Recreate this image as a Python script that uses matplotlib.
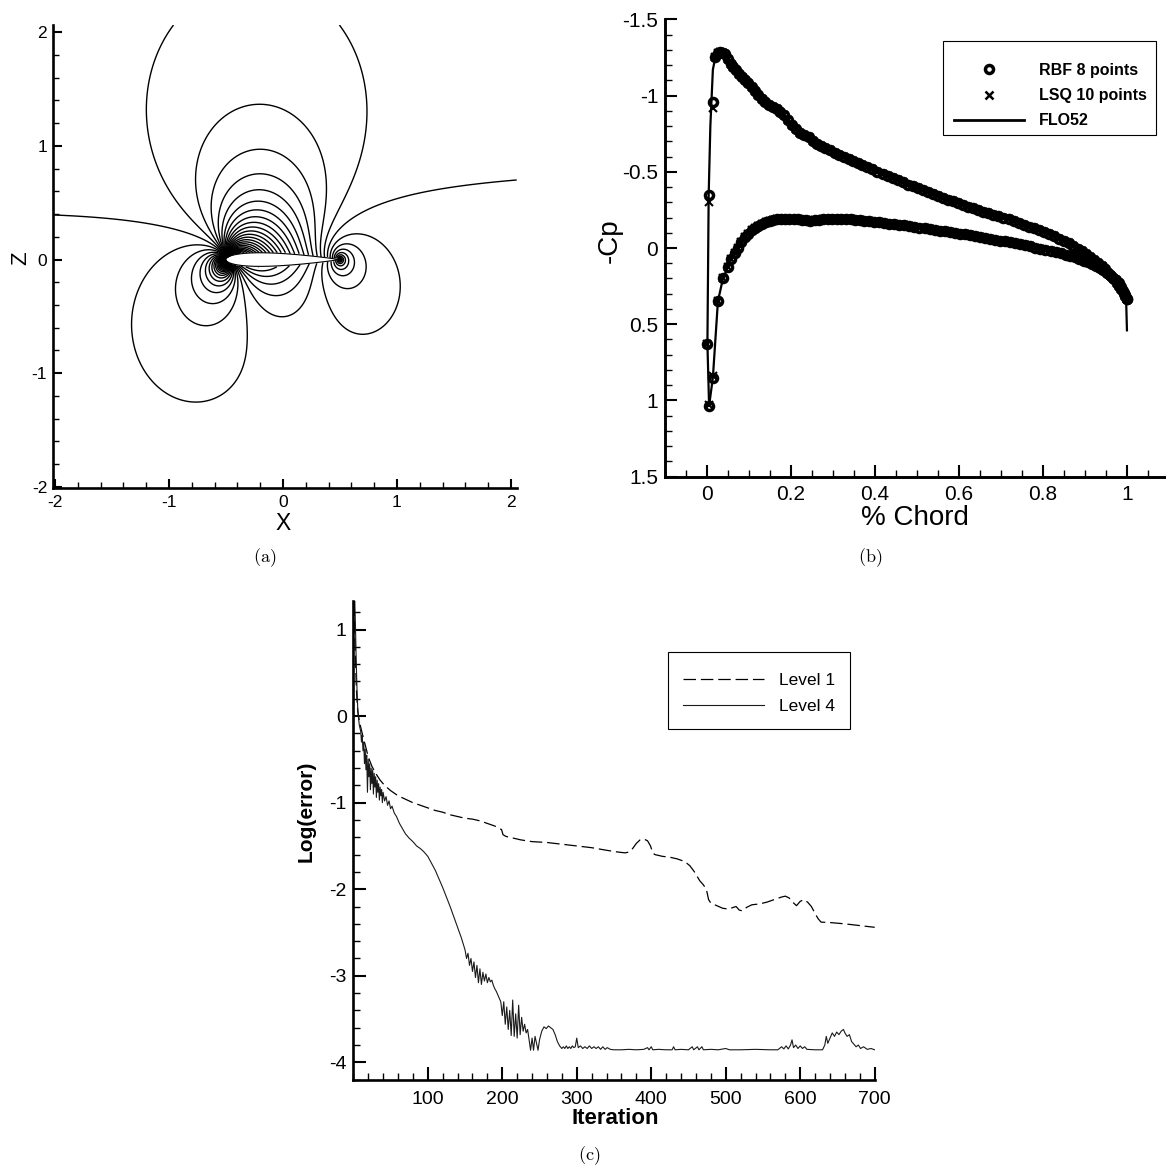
import numpy as np
import matplotlib
matplotlib.use("Agg")
import matplotlib.pyplot as plt
from matplotlib.path import Path
from matplotlib.patches import Rectangle
from matplotlib.ticker import MultipleLocator, FuncFormatter

plt.rcParams["font.family"] = ["Liberation Sans", "DejaVu Sans"]
plt.rcParams["axes.unicode_minus"] = False
plt.rcParams["mathtext.fontset"] = "cm"
plt.rcParams["lines.scale_dashes"] = False

W, H = 1166, 1167

# ---- (a) NACA 0012 section, subsonic Cp field (Goethert-corrected panel method) ----
chord_le, chord_te = -0.5, 0.5
thickness = 0.12
alpha_deg = 2.8
mach = 0.5
n_half = 90
cp_step = 0.036

# ---- (b) surface pressure ----
upper_x = [0.000, 0.005, 0.014, 0.020, 0.026, 0.032, 0.038, 0.044, 0.050, 0.056,
           0.062, 0.069, 0.076, 0.083, 0.090, 0.098, 0.106, 0.114, 0.122, 0.130,
           0.139, 0.148, 0.157, 0.166, 0.175, 0.184, 0.193, 0.202, 0.212, 0.222,
           0.232, 0.242, 0.252, 0.262, 0.272, 0.282, 0.293, 0.304, 0.315, 0.326,
           0.337, 0.348, 0.359, 0.370, 0.382, 0.394, 0.406, 0.418, 0.430, 0.442,
           0.454, 0.466, 0.478, 0.490, 0.502, 0.514, 0.526, 0.538, 0.550, 0.562,
           0.574, 0.586, 0.598, 0.610, 0.622, 0.634, 0.646, 0.658, 0.670, 0.682,
           0.694, 0.706, 0.718, 0.730, 0.742, 0.754, 0.766, 0.778, 0.790, 0.802,
           0.814, 0.826, 0.838, 0.850, 0.861, 0.872, 0.883, 0.893, 0.903, 0.913,
           0.922, 0.931, 0.940, 0.948, 0.956, 0.963, 0.970, 0.976, 0.982, 0.987,
           0.992, 0.996, 1.000]
rbf_upper = [0.63, -0.35, -0.96, -1.25, -1.28, -1.285, -1.28, -1.27, -1.24, -1.21,
             -1.19, -1.17, -1.14, -1.12, -1.10, -1.08, -1.055, -1.03, -1.005, -0.98,
             -0.96, -0.94, -0.925, -0.91, -0.895, -0.87, -0.84, -0.81, -0.78, -0.755,
             -0.74, -0.725, -0.705, -0.685, -0.67, -0.655, -0.64, -0.625, -0.612, -0.60,
             -0.585, -0.57, -0.557, -0.543, -0.53, -0.515, -0.50, -0.487, -0.473, -0.46,
             -0.445, -0.43, -0.416, -0.405, -0.393, -0.38, -0.368, -0.355, -0.342, -0.33,
             -0.318, -0.306, -0.295, -0.284, -0.272, -0.26, -0.248, -0.238, -0.228, -0.218,
             -0.208, -0.198, -0.188, -0.176, -0.164, -0.152, -0.14, -0.128, -0.116, -0.104,
             -0.091, -0.077, -0.062, -0.045, -0.03, -0.013, 0.004, 0.022, 0.04, 0.06,
             0.08, 0.10, 0.12, 0.14, 0.162, 0.183, 0.205, 0.228, 0.25, 0.272,
             0.295, 0.315, 0.335]
lower_x = [0.005, 0.014, 0.026, 0.038, 0.050, 0.058, 0.066, 0.074, 0.082, 0.090,
           0.098, 0.106, 0.114, 0.122, 0.131, 0.140, 0.149, 0.158, 0.167, 0.176,
           0.186, 0.196, 0.206, 0.216, 0.226, 0.236, 0.246, 0.256, 0.266, 0.276,
           0.287, 0.298, 0.309, 0.320, 0.331, 0.342, 0.353, 0.364, 0.375, 0.386,
           0.398, 0.410, 0.422, 0.434, 0.446, 0.458, 0.470, 0.482, 0.494, 0.506,
           0.518, 0.530, 0.542, 0.554, 0.566, 0.578, 0.590, 0.602, 0.614, 0.626,
           0.638, 0.650, 0.662, 0.674, 0.686, 0.698, 0.710, 0.722, 0.734, 0.746,
           0.758, 0.770, 0.782, 0.794, 0.806, 0.818, 0.830, 0.842, 0.854, 0.865,
           0.876, 0.887, 0.897, 0.907, 0.917, 0.926, 0.935, 0.944, 0.952, 0.960,
           0.967, 0.974, 0.980, 0.986, 0.991, 0.996, 1.000]
rbf_lower = [1.035, 0.85, 0.35, 0.20, 0.125, 0.075, 0.035, 0.0, -0.04, -0.07,
             -0.095, -0.115, -0.132, -0.147, -0.16, -0.17, -0.177, -0.183, -0.187, -0.19,
             -0.192, -0.192, -0.19, -0.188, -0.185, -0.183, -0.18, -0.182, -0.186, -0.189,
             -0.191, -0.192, -0.192, -0.191, -0.189, -0.187, -0.185, -0.182, -0.179, -0.176,
             -0.172, -0.168, -0.164, -0.16, -0.156, -0.152, -0.148, -0.144, -0.139, -0.134,
             -0.129, -0.124, -0.119, -0.114, -0.109, -0.104, -0.099, -0.094, -0.089, -0.084,
             -0.079, -0.073, -0.067, -0.061, -0.055, -0.049, -0.043, -0.037, -0.031, -0.024,
             -0.017, -0.01, -0.003, 0.004, 0.012, 0.02, 0.028, 0.036, 0.044, 0.053,
             0.062, 0.071, 0.082, 0.094, 0.106, 0.118, 0.131, 0.146, 0.161, 0.177,
             0.195, 0.213, 0.232, 0.255, 0.28, 0.31, 0.335]
# LSQ agrees with RBF everywhere except the first nodes behind the leading edge
lsq_upper_le = [0.63, -0.30, -0.92]
lsq_lower_le = [1.03, 0.84]
lsq_upper = lsq_upper_le + rbf_upper[len(lsq_upper_le):]
lsq_lower = lsq_lower_le + rbf_lower[len(lsq_lower_le):]

flo_upper_x = [0.005, 0.001, 0.004, 0.008, 0.014, 0.022, 0.030, 0.040, 0.055, 0.075,
               0.100, 0.130, 0.160, 0.190, 0.220, 0.250, 0.280, 0.320, 0.360, 0.400,
               0.450, 0.500, 0.550, 0.600, 0.650, 0.700, 0.750, 0.800, 0.850, 0.900,
               0.940, 0.970, 0.990, 0.998, 1.000]
flo_upper = [1.035, 0.63, -0.35, -0.80, -1.17, -1.28, -1.285, -1.27, -1.22, -1.15,
             -1.06, -0.98, -0.92, -0.83, -0.755, -0.70, -0.66, -0.60, -0.555, -0.505,
             -0.45, -0.395, -0.345, -0.295, -0.245, -0.205, -0.16, -0.105, -0.045, 0.03,
             0.12, 0.19, 0.27, 0.335, 0.54]
flo_lower_x = [0.005, 0.014, 0.026, 0.038, 0.055, 0.075, 0.100, 0.130, 0.160, 0.200,
               0.250, 0.300, 0.350, 0.400, 0.450, 0.500, 0.550, 0.600, 0.650, 0.700,
               0.750, 0.800, 0.850, 0.900, 0.940, 0.970, 0.990, 0.998]
flo_lower = [1.035, 0.85, 0.35, 0.20, 0.09, -0.01, -0.10, -0.155, -0.183, -0.19,
             -0.18, -0.19, -0.183, -0.17, -0.155, -0.135, -0.115, -0.095, -0.072, -0.05,
             -0.02, 0.01, 0.045, 0.095, 0.14, 0.21, 0.28, 0.335]

# ---- (c) convergence history ----
l1_iter = [1, 2, 3, 4, 5, 6, 7, 8, 10, 12, 15, 18, 20, 25, 30, 36, 42, 50, 60, 70,
           80, 90, 100, 110, 120, 130, 140, 150, 160, 170, 180, 190, 196, 199, 201, 205,
           215, 225, 240, 260, 280, 300, 320, 340, 355, 365, 370, 375, 380, 385, 390,
           395, 399, 402, 405, 415, 425, 435, 445, 452, 458, 465, 470, 474, 477, 480,
           488, 496, 504, 510, 514, 518, 522, 528, 535, 545, 555, 565, 575, 580, 585,
           590, 595, 600, 605, 610, 615, 620, 624, 628, 640, 660, 680, 700]
l1_val = [1.30, 1.00, 0.65, 0.35, 0.18, 0.06, 0.00, -0.05, -0.13, -0.20, -0.30, -0.40,
          -0.47, -0.58, -0.66, -0.74, -0.80, -0.86, -0.92, -0.96, -1.00, -1.03, -1.06,
          -1.09, -1.11, -1.14, -1.16, -1.18, -1.19, -1.21, -1.24, -1.27, -1.30, -1.31,
          -1.37, -1.39, -1.41, -1.43, -1.45, -1.46, -1.48, -1.50, -1.52, -1.55, -1.57,
          -1.58, -1.57, -1.53, -1.47, -1.43, -1.42, -1.44, -1.50, -1.58, -1.60, -1.62,
          -1.63, -1.65, -1.68, -1.73, -1.80, -1.90, -1.95, -2.00, -2.12, -2.16, -2.19,
          -2.22, -2.23, -2.21, -2.20, -2.24, -2.25, -2.21, -2.18, -2.17, -2.15, -2.12,
          -2.09, -2.08, -2.10, -2.15, -2.19, -2.14, -2.12, -2.15, -2.20, -2.28, -2.34,
          -2.38, -2.385, -2.40, -2.42, -2.44]
l4_iter = [1, 2, 3, 4, 5, 6, 7, 8, 10, 11, 12, 13, 14, 15, 16, 17, 18, 19, 20, 21,
           22, 23, 24, 25, 26, 27, 28, 29, 30, 31, 32, 33, 34, 35, 36, 37, 38, 39, 40,
           42, 44, 46, 48, 50, 52, 55, 58, 62, 66, 70, 75, 80, 85, 90, 95, 100, 105,
           110, 115, 120, 125, 130, 135, 140, 145, 150, 152, 154, 156, 158, 160, 162,
           164, 166, 168, 170, 172, 174, 176, 178, 180, 182, 184, 186, 188, 190, 192,
           194, 196, 198, 200, 202, 204, 206, 208, 210, 212, 214, 216, 218, 220, 222,
           224, 226, 228, 230, 232, 234, 236, 238, 240, 242, 244, 246, 248, 250, 253,
           256, 259, 262, 265, 268, 271, 274, 277, 280, 282, 284, 286, 288, 290, 292,
           294, 296, 298, 300, 302, 305, 308, 311, 314, 317, 320, 323, 326, 329, 332,
           335, 338, 341, 345, 350, 360, 370, 380, 390, 395, 397, 400, 402, 410, 420,
           428, 430, 432, 440, 450, 455, 457, 462, 464, 468, 470, 480, 490, 500, 505,
           520, 540, 560, 570, 575, 578, 581, 584, 587, 589, 591, 594, 597, 600, 603,
           606, 609, 620, 630, 633, 635, 637, 640, 643, 646, 649, 652, 655, 658, 660,
           663, 666, 669, 672, 675, 678, 681, 685, 690, 695, 700]
l4_val = [1.30, 1.34, 1.00, 0.60, 0.30, 0.08, -0.02, -0.10, -0.18, -0.30, -0.22, -0.40,
          -0.30, -0.55, -0.38, -0.62, -0.45, -0.88, -0.50, -0.70, -0.55, -0.85, -0.60,
          -0.78, -0.62, -0.90, -0.66, -0.82, -0.70, -0.94, -0.74, -0.88, -0.78, -0.97,
          -0.82, -0.92, -0.85, -1.00, -0.88, -0.98, -0.93, -1.03, -0.98, -1.07, -1.04,
          -1.12, -1.16, -1.24, -1.30, -1.36, -1.41, -1.45, -1.50, -1.53, -1.57, -1.62,
          -1.70, -1.78, -1.88, -1.98, -2.09, -2.20, -2.32, -2.44, -2.56, -2.70, -2.80,
          -2.74, -2.88, -2.80, -2.95, -2.84, -3.02, -2.88, -3.08, -2.92, -3.10, -2.96,
          -3.06, -2.98, -3.08, -3.02, -3.07, -3.05, -3.11, -3.15, -3.18, -3.22, -3.26,
          -3.30, -3.46, -3.30, -3.56, -3.36, -3.62, -3.40, -3.69, -3.28, -3.70, -3.44,
          -3.72, -3.34, -3.68, -3.48, -3.64, -3.56, -3.66, -3.62, -3.74, -3.86, -3.72,
          -3.86, -3.70, -3.78, -3.86, -3.74, -3.64, -3.59, -3.61, -3.58, -3.60, -3.62,
          -3.68, -3.76, -3.81, -3.84, -3.82, -3.84, -3.81, -3.84, -3.82, -3.84, -3.81,
          -3.83, -3.82, -3.72, -3.83, -3.81, -3.84, -3.82, -3.84, -3.81, -3.84, -3.82,
          -3.84, -3.82, -3.85, -3.82, -3.85, -3.83, -3.85, -3.855, -3.855, -3.85, -3.855,
          -3.85, -3.83, -3.855, -3.82, -3.855, -3.85, -3.855, -3.855, -3.82, -3.855,
          -3.85, -3.855, -3.82, -3.855, -3.82, -3.855, -3.82, -3.855, -3.85, -3.855,
          -3.84, -3.855, -3.855, -3.85, -3.855, -3.855, -3.82, -3.845, -3.81, -3.845,
          -3.80, -3.74, -3.83, -3.80, -3.84, -3.81, -3.84, -3.82, -3.85, -3.855, -3.855,
          -3.80, -3.70, -3.78, -3.72, -3.66, -3.70, -3.65, -3.68, -3.64, -3.62, -3.66,
          -3.70, -3.68, -3.76, -3.79, -3.82, -3.80, -3.84, -3.82, -3.85, -3.84, -3.855]


def naca_nodes(t):
    b = np.linspace(0.0, np.pi, n_half + 1)
    xc = 0.5 * (1.0 - np.cos(b))
    yt = 5 * t * (0.2969 * np.sqrt(xc) - 0.1260 * xc - 0.3516 * xc**2
                  + 0.2843 * xc**3 - 0.1036 * xc**4)
    c = chord_te - chord_le
    # clockwise: trailing edge -> lower -> leading edge -> upper -> trailing edge
    x = np.concatenate([xc[::-1], xc[1:]]) * c + chord_le
    z = np.concatenate([-yt[::-1], yt[1:]]) * c
    return x, z


def panel_terms(px, pz, xa, za, xb, zb):
    dx, dz = xb - xa, zb - za
    ln = np.hypot(dx, dz)
    c, s = dx / ln, dz / ln
    xl = (px - xa) * c + (pz - za) * s
    zl = -(px - xa) * s + (pz - za) * c
    with np.errstate(divide="ignore", invalid="ignore"):
        lnr = 0.5 * np.log((xl**2 + zl**2) / ((xl - ln)**2 + zl**2))
    th = np.arctan2(zl, xl - ln) - np.arctan2(zl, xl)
    return lnr, th, c, s


def rot(ul, vl, c, s):
    return ul * c - vl * s, ul * s + vl * c


# Goethert's rule: equivalent incompressible section is thinner by beta
beta = np.sqrt(1.0 - mach**2)
xn, zn = naca_nodes(thickness * beta)
xa, za, xb, zb = xn[:-1], zn[:-1], xn[1:], zn[1:]
xm, zm = 0.5 * (xa + xb), 0.5 * (za + zb)
npan = len(xa)
lnr, th, c, s = panel_terms(xm[:, None], zm[:, None], xa[None, :], za[None, :],
                            xb[None, :], zb[None, :])
np.fill_diagonal(lnr, 0.0)
np.fill_diagonal(th, np.pi)
su, sv = rot(lnr, th, c, s)
vu, vv = rot(th, -lnr, c, s)
ci, si = c.ravel(), s.ravel()
An = (su * -si[:, None] + sv * ci[:, None]) / (2 * np.pi)
At = (su * ci[:, None] + sv * si[:, None]) / (2 * np.pi)
Bn = (vu * -si[:, None] + vv * ci[:, None]).sum(axis=1) / (2 * np.pi)
Bt = (vu * ci[:, None] + vv * si[:, None]).sum(axis=1) / (2 * np.pi)

alpha = np.radians(alpha_deg) * beta
ux, uz = np.cos(alpha), np.sin(alpha)
A = np.zeros((npan + 1, npan + 1))
rhs = np.zeros(npan + 1)
A[:npan, :npan] = An
A[:npan, npan] = Bn
A[npan, :npan] = At[0] + At[-1]
A[npan, npan] = Bt[0] + Bt[-1]
rhs[:npan] = -(ux * -si + uz * ci)
rhs[npan] = -((ux * ci[0] + uz * si[0]) + (ux * ci[-1] + uz * si[-1]))
sol = np.linalg.solve(A, rhs)
q, gam = sol[:npan], sol[npan]

gx = np.linspace(-2.02, 2.05, 430)
gz = np.linspace(-2.01, 2.064, 430)
X, Z = np.meshgrid(gx, gz)
Zc = Z * beta
u = np.full_like(X, ux)
v = np.full_like(X, uz)
for j in range(npan):
    l, t, cj, sj = panel_terms(X, Zc, xa[j], za[j], xb[j], zb[j])
    a1, b1 = rot(l, t, cj, sj)
    a2, b2 = rot(t, -l, cj, sj)
    u += (q[j] * a1 + gam * a2) / (2 * np.pi)
    v += (q[j] * b1 + gam * b2) / (2 * np.pi)
cp = (1.0 - u**2 - v**2) / beta**2
zn_phys = zn / beta
inside = Path(np.column_stack([xn, zn_phys])).contains_points(
    np.column_stack([X.ravel(), Z.ravel()])).reshape(X.shape)
cp = np.ma.masked_where(inside | ~np.isfinite(cp), cp)
levels = np.arange(-60, 45) * cp_step


def frac(left, top, right, bottom):
    return [left / W, 1 - bottom / H, (right - left) / W, (bottom - top) / H]


def style(ax, lw, major, minor, size, padx, pady):
    for side in ("top", "right"):
        ax.spines[side].set_visible(False)
    for side in ("left", "bottom"):
        ax.spines[side].set_linewidth(lw)
    ax.tick_params(which="both", direction="in", top=False, right=False)
    ax.tick_params(which="major", length=major, width=1.5, labelsize=size)
    ax.tick_params(which="minor", length=minor, width=1.0)
    ax.tick_params(axis="x", which="major", pad=padx)
    ax.tick_params(axis="y", which="major", pad=pady)


fig = plt.figure(figsize=(W / 100, H / 100), dpi=100)

# (a) contours
ax_a = fig.add_axes(frac(52.7, 25, 516.7, 488))
ax_a.contour(X, Z, cp, levels=levels, colors="k", linewidths=1.0,
             linestyles="solid")
ax_a.plot(xn, zn_phys, color="k", lw=0.8)
ax_a.set_xlim(-2.02, 2.05)
ax_a.set_ylim(-2.01, 2.064)
ax_a.set_xticks([-2, -1, 0, 1, 2])
ax_a.set_yticks([-2, -1, 0, 1, 2])
ax_a.xaxis.set_minor_locator(MultipleLocator(0.2))
ax_a.yaxis.set_minor_locator(MultipleLocator(0.2))
style(ax_a, 1.9, 6.5, 4.0, 12.5, 5, 4)

# (b) pressure distribution
ax_b = fig.add_axes(frac(665, 19.3, 1166, 476.7))
ax_b.plot(flo_upper_x, flo_upper, color="k", lw=1.6)
ax_b.plot(flo_lower_x, flo_lower, color="k", lw=1.6)
ax_b.plot(upper_x, rbf_upper, "o", ms=5.8, mfc="none", mec="k", mew=2.5)
ax_b.plot(lower_x, rbf_lower, "o", ms=5.8, mfc="none", mec="k", mew=2.5)
ax_b.plot(upper_x, lsq_upper, "x", ms=6, mec="k", mew=1.5)
ax_b.plot(lower_x, lsq_lower, "x", ms=6, mec="k", mew=1.5)
ax_b.set_xlim(-0.1, 1.093)
ax_b.set_ylim(1.5, -1.5)
ax_b.set_xticks([0, 0.2, 0.4, 0.6, 0.8, 1.0])
ax_b.set_yticks([-1.5, -1, -0.5, 0, 0.5, 1, 1.5])
ax_b.xaxis.set_minor_locator(MultipleLocator(0.05))
ax_b.yaxis.set_minor_locator(MultipleLocator(0.1))
fmt = FuncFormatter(lambda val, pos: f"{val:g}")
ax_b.xaxis.set_major_formatter(fmt)
ax_b.yaxis.set_major_formatter(fmt)
style(ax_b, 2.1, 8.6, 4.8, 15, 6, 4.8)

h_rbf, = ax_b.plot([], [], "o", ms=5.8, mfc="none", mec="k", mew=2.5)
h_lsq, = ax_b.plot([], [], "x", ms=6, mec="k", mew=1.8)
h_flo, = ax_b.plot([], [], color="k", lw=2.0)
ax_b.legend([h_rbf, h_lsq, h_flo], ["RBF 8 points", "LSQ 10 points", "FLO52"],
            loc="upper left", bbox_to_anchor=(954 / W, 1 - 63 / H),
            bbox_transform=fig.transFigure, frameon=False, borderpad=0,
            borderaxespad=0, handlelength=4.4, handletextpad=0.94,
            labelspacing=0.64, numpoints=1,
            prop={"family": "Liberation Sans", "weight": "bold", "size": 11.5})
fig.patches.append(Rectangle(frac(943, 40.7, 1156, 134.5)[:2],
                             (1156 - 943) / W, (134.5 - 40.7) / H,
                             transform=fig.transFigure, fill=False, ec="k", lw=0.8))

# (c) convergence
ax_c = fig.add_axes(frac(353.3, 601, 874.7, 1080))
ax_c.plot(l1_iter, l1_val, color="k", lw=0.9, dashes=(9, 3.5), label="Level 1")
ax_c.plot(l4_iter, l4_val, color="0.1", lw=0.8, label="Level 4")
ax_c.set_xlim(0, 700)
ax_c.set_ylim(-4.204, 1.33)
ax_c.set_xticks([100, 200, 300, 400, 500, 600, 700])
ax_c.set_yticks([-4, -3, -2, -1, 0, 1])
ax_c.xaxis.set_minor_locator(MultipleLocator(20))
ax_c.yaxis.set_minor_locator(MultipleLocator(0.2))
style(ax_c, 1.9, 9.5, 4.7, 14, 8, 4.8)
ax_c.legend(loc="upper left", bbox_to_anchor=(683 / W, 1 - 672.5 / H),
            bbox_transform=fig.transFigure, frameon=False, borderpad=0,
            borderaxespad=0, handlelength=4.66, handletextpad=0.86,
            labelspacing=0.67, fontsize=12.5)
fig.patches.append(Rectangle(frac(668, 652, 850, 728.7)[:2],
                             (850 - 668) / W, (728.7 - 652) / H,
                             transform=fig.transFigure, fill=False, ec="k", lw=0.8))

# axis titles and captions
fig.text(283 / W, 1 - 523 / H, "X", fontsize=16.5, ha="center", va="center")
fig.text(21 / W, 1 - 258.3 / H, "Z", fontsize=16, rotation=90, ha="center", va="center")
fig.text(915 / W, 1 - 518.5 / H, "% Chord", fontsize=20, ha="center", va="center")
fig.text(610 / W, 1 - 240.5 / H, "-Cp", fontsize=20, rotation=90, ha="center", va="center")
fig.text(615 / W, 1 - 1118 / H, "Iteration", fontsize=16, fontweight="bold",
         ha="center", va="center")
fig.text(306 / W, 1 - 811 / H, "Log(error)", fontsize=15, fontweight="bold",
         rotation=90, ha="center", va="center")
for label, xc, yc in [("(a)", 265, 558), ("(b)", 870, 557.5), ("(c)", 589, 1156)]:
    fig.text(xc / W, 1 - yc / H, r"$\mathrm{" + label + "}$", fontsize=13,
             ha="center", va="center")

fig.savefig("out.png", dpi=100)
